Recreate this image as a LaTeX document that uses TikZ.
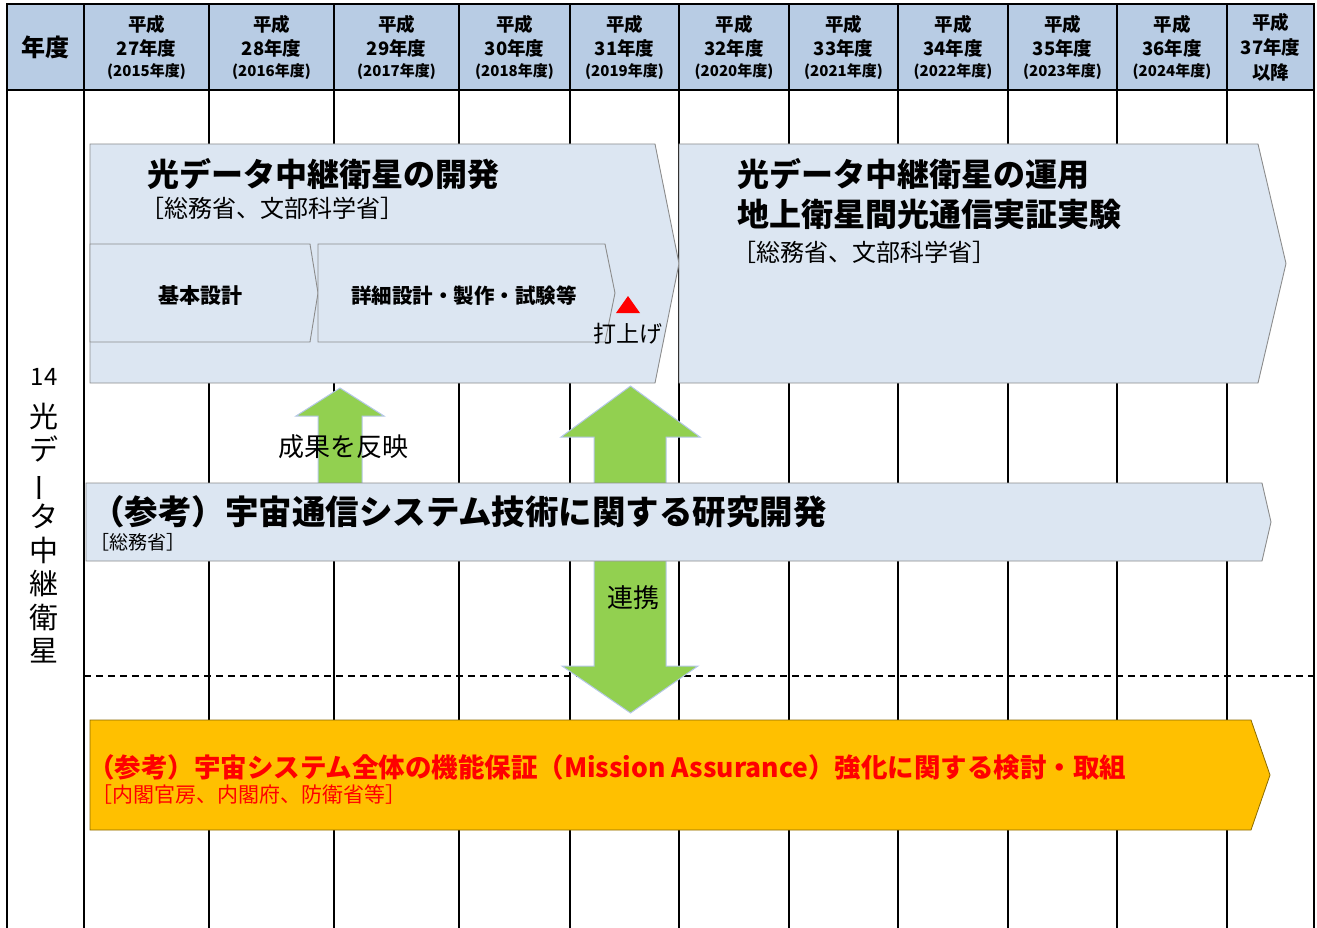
\documentclass[tikz,border=0pt]{standalone}
\usepackage{fontspec}
\setmainfont{Noto Sans CJK JP}
\usepackage{graphicx}
\definecolor{hdrblue}{HTML}{B8CCE4}
\definecolor{chevfill}{HTML}{DCE6F2}
\definecolor{chevline}{HTML}{8C8C8C}
\definecolor{arrgreen}{HTML}{92D050}
\definecolor{arrline}{HTML}{B4C7E7}
\definecolor{orangefill}{HTML}{FFC000}
\definecolor{orangeline}{HTML}{8A6A00}
\definecolor{redtxt}{HTML}{FF0000}
\newcommand{\myfs}[2]{\fontsize{#1}{#2}\selectfont}
\begin{document}
\begin{tikzpicture}[x=1pt,y=-1pt,
  gridline/.style={line width=1.4pt, draw=black},
  border/.style={line width=2.6pt, draw=black},
  chev/.style={fill=chevfill, draw=chevline, line width=0.9pt},
  orangebar/.style={fill=orangefill, draw=orangeline, line width=0.8pt},
  greenarrow/.style={fill=arrgreen, draw=arrline, line width=1pt},
  txt/.style={inner sep=0pt, outer sep=0pt, text=black},
  hdrA/.style={txt, font=\myfs{18.5}{22}\bfseries},
  hdrC/.style={txt, font=\myfs{15}{18}\bfseries},
  title/.style={txt, anchor=west, font=\myfs{32}{36}\bfseries},
  agency/.style={txt, anchor=west, font=\myfs{24}{27}},
  subtxt/.style={txt, font=\myfs{20.5}{24}\bfseries},
  labeltxt/.style={txt, font=\myfs{26}{30}},
]
\useasboundingbox (0,0) rectangle (1317,928);

% header background
\fill[hdrblue] (7,4) rectangle (1314,90);

% grid lines
\foreach \gx in {84,209,334,459,570,679,789,898,1008,1117,1227}
  \draw[gridline] (\gx,4) -- (\gx,928);

% dashed separator
\draw[line width=1.3pt, dash pattern=on 7pt off 5pt] (84,676) -- (1314,676);

% outer border and header bottom
\draw[border] (7,928) -- (7,4) -- (1314,4) -- (1314,928);
\draw[line width=2pt] (7,90) -- (1314,90);

% header texts
\node[txt, font=\myfs{24}{28}\bfseries] (h0) at (45.5,47) {年度};
\foreach \cx/\hy/\yr [count=\i] in {146.5/27/2015, 271.5/28/2016, 396.5/29/2017, 514.5/30/2018, 624.5/31/2019, 734/32/2020, 843.5/33/2021, 953/34/2022, 1062.5/35/2023, 1172/36/2024} {
  \node[hdrA] (ha\i) at (\cx,24) {平成};
  \node[hdrA] (hb\i) at (\cx,48) {\hy 年度};
  \node[hdrC] (hc\i) at (\cx,72) {(\yr 年度)};
}
\node[hdrA] (hl1) at (1270.5,22) {平成};
\node[hdrA] (hl2) at (1270.5,47) {37年度};
\node[hdrA] (hl3) at (1270.5,72) {以降};

% left column label
\node[txt, font=\myfs{24}{28}] (num) at (44,377) {14};
\node[txt, align=center, font=\myfs{29}{33.5}] (vt) at (44,533)
  {光\\デ\\\rotatebox[origin=c]{90}{ー}\\タ\\中\\継\\衛\\星};

% green arrows
\path[greenarrow] (318,484) -- (318,416) -- (296,416) -- (340,388) -- (384,416)
  -- (362,416) -- (362,484) -- cycle;
\path[greenarrow] (594,437) -- (561,437) -- (630.5,386) -- (700,437) -- (666,437)
  -- (666,666) -- (698,666) -- (630.5,713) -- (562,666) -- (594,666) -- cycle;

% development chevron
\path[chev] (90,144) -- (655,144) -- (679,263.5) -- (655,383) -- (90,383) -- cycle;
\path[chev] (90,244) -- (310,244) -- (318,293) -- (310,342) -- (90,342) -- cycle;
\path[chev] (318,244) -- (605,244) -- (615,293) -- (605,342) -- (318,342) -- cycle;
\fill[red] (616,313) -- (628,296) -- (640,313) -- cycle;

% operation chevron
\path[chev] (679,144) -- (1258,144) -- (1286,263.5) -- (1258,383) -- (679,383) -- cycle;

% research bar
\path[chev] (86,483) -- (1262,483) -- (1271,522) -- (1262,561) -- (86,561) -- cycle;

% mission assurance bar
\path[orangebar] (90,720) -- (1251,720) -- (1270,775) -- (1251,830) -- (90,830) -- cycle;

% chevron texts
\node[title] (t1) at (147,174) {光データ中継衛星の開発};
\node[agency] (a1) at (140,208) {［総務省、文部科学省］};
\node[subtxt, font=\myfs{21}{24}\bfseries] (s1) at (200,296) {基本設計};
\node[subtxt] (s2) at (464,296) {詳細設計・製作・試験等};
\node[txt, font=\myfs{23}{26}] (launch) at (628,334) {打上げ};

\node[title] (t2) at (737,174) {光データ中継衛星の運用};
\node[title] (t3) at (737,214) {地上衛星間光通信実証実験};
\node[agency] (a2) at (732,252) {［総務省、文部科学省］};

\node[txt, anchor=west, font=\myfs{33.5}{36}\bfseries] (t4) at (91,512)
  {（参考）宇宙通信システム技術に関する研究開発};
\node[txt, anchor=west, font=\myfs{19}{22}] (a4) at (90,542) {［総務省］};

\node[txt, anchor=west, text=redtxt, font=\myfs{26.5}{30}\bfseries] (t5) at (88,767)
  {（参考）宇宙システム全体の機能保証（Mission Assurance）強化に関する検討・取組};
\node[txt, anchor=west, text=redtxt, font=\myfs{21}{24}] (a5) at (91,795)
  {［内閣官房、内閣府、防衛省等］};

% arrow labels
\node[labeltxt] (l1) at (343,447) {成果を反映};
\node[labeltxt] (l2) at (633,598) {連携};
\end{tikzpicture}
\end{document}
